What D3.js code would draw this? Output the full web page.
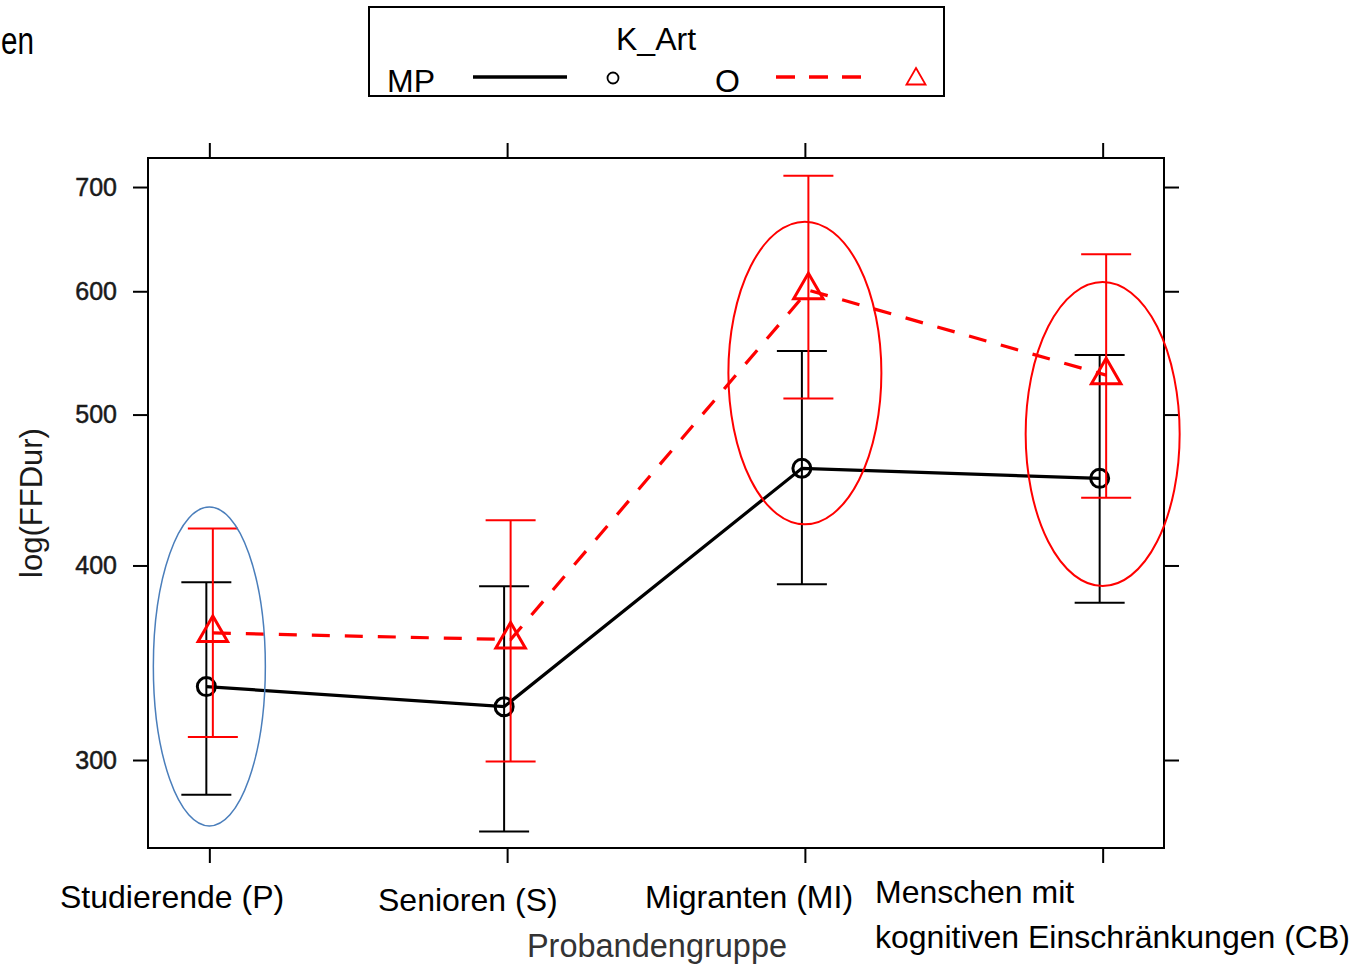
<!DOCTYPE html>
<html>
<head>
<meta charset="utf-8">
<script src="https://d3js.org/d3.v7.min.js"></script>
<style>
  html, body { margin: 0; padding: 0; background: #fff; }
  svg { display: block; }
  text { font-family: "Liberation Sans", Arial, sans-serif; }
</style>
</head>
<body>
<svg id="chart" width="1367" height="967"></svg>
<script>
// Participant groups (x axis) and the two stimulus types (K_Art)
const categories = ["P", "S", "MI", "CB"];
const categoryLabels = [
  ["Studierende (P)"],
  ["Senioren (S)"],
  ["Migranten (MI)"],
  ["Menschen mit", "kognitiven Einschränkungen (CB)"]
];
const seriesNames = ["MP", "O"];

// FFDur estimates with confidence limits, MP
const mpMean  = [334.4, 324.6, 461.8, 455.0];
const mpLower = [285.0, 269.9, 389.0, 378.6];
const mpUpper = [390.2, 387.9, 549.3, 546.0];

// FFDur estimates with confidence limits, O
const oMean  = [362.0, 358.5, 601.0, 530.0];
const oLower = [310.4, 299.3, 512.1, 442.2];
const oUpper = [422.4, 427.6, 711.8, 633.7];

const yTicks = [300, 400, 500, 600, 700];

// Highlighted groups: category, centre value, colour
const highlightCats   = ["P", "MI", "CB"];
const highlightCenter = [344.5, 531.7, 485.8];
const highlightColor  = ["#4a7ebb", "#ff0000", "#ff0000"];

// ---- layout ----
const svg = d3.select("#chart");
const box = { left: 148, right: 1164, top: 158, bottom: 848 };
const ellipseR = [[56, 159.5], [76.5, 151.3], [77, 152]];
const labelPos = [[60, 908], [378, 911], [645, 908], [875, 903]];

const x = d3.scalePoint().domain(categories).range([box.left, box.right]).padding(0.206);
const y = d3.scaleLog().domain([263.4, 730.7]).range([box.bottom, box.top]);

const series = [
  { name: "MP", mean: mpMean, lo: mpLower, hi: mpUpper, color: "#000000", dx: -3, dash: null, shape: "circle" },
  { name: "O",  mean: oMean,  lo: oLower,  hi: oUpper,  color: "#ff0000", dx: 3.5, dash: "18,15", shape: "triangle" }
];

// axes: ticks on all four sides, labels on the left only
const tickLen = 15;
svg.append("g")
  .attr("transform", `translate(${box.left},0)`)
  .call(d3.axisLeft(y).tickValues(yTicks).tickFormat(d3.format("d")).tickSize(tickLen).tickPadding(16))
  .call(g => g.select(".domain").remove())
  .call(g => g.selectAll("line").attr("stroke", "#000").attr("stroke-width", 2))
  .call(g => g.selectAll("text").attr("font-size", 25).attr("fill", "#1a1a1a")
    .attr("stroke", "#1a1a1a").attr("stroke-width", 0.5)
    .attr("font-family", "Liberation Sans, Arial, sans-serif"));

svg.append("g")
  .attr("transform", `translate(${box.right},0)`)
  .call(d3.axisRight(y).tickValues(yTicks).tickFormat("").tickSize(tickLen))
  .call(g => g.select(".domain").remove())
  .call(g => g.selectAll("line").attr("stroke", "#000").attr("stroke-width", 2));

svg.append("g")
  .attr("transform", `translate(0,${box.top})`)
  .call(d3.axisTop(x).tickFormat("").tickSize(tickLen))
  .call(g => g.select(".domain").remove())
  .call(g => g.selectAll("line").attr("stroke", "#000").attr("stroke-width", 2));

svg.append("g")
  .attr("transform", `translate(0,${box.bottom})`)
  .call(d3.axisBottom(x).tickFormat("").tickSize(tickLen))
  .call(g => g.select(".domain").remove())
  .call(g => g.selectAll("line").attr("stroke", "#000").attr("stroke-width", 2));

// panel frame
svg.append("rect")
  .attr("x", box.left).attr("y", box.top)
  .attr("width", box.right - box.left).attr("height", box.bottom - box.top)
  .attr("fill", "none").attr("stroke", "#000").attr("stroke-width", 2);

// error bars, lines and markers per series
const capHalf = 25;
series.forEach(s => {
  const g = svg.append("g");
  const xs = categories.map(c => x(c) + s.dx);

  const bars = g.selectAll("g.bar").data(categories).join("g").attr("class", "bar")
    .attr("stroke", s.color).attr("stroke-width", 2);
  bars.append("line")
    .attr("x1", (d, i) => xs[i]).attr("x2", (d, i) => xs[i])
    .attr("y1", (d, i) => y(s.lo[i])).attr("y2", (d, i) => y(s.hi[i]));
  bars.append("line")
    .attr("x1", (d, i) => xs[i] - capHalf).attr("x2", (d, i) => xs[i] + capHalf)
    .attr("y1", (d, i) => y(s.hi[i])).attr("y2", (d, i) => y(s.hi[i]));
  bars.append("line")
    .attr("x1", (d, i) => xs[i] - capHalf).attr("x2", (d, i) => xs[i] + capHalf)
    .attr("y1", (d, i) => y(s.lo[i])).attr("y2", (d, i) => y(s.lo[i]));

  const line = d3.line().x((d, i) => xs[i]).y(d => y(d));
  g.append("path").datum(s.mean)
    .attr("d", line)
    .attr("fill", "none").attr("stroke", s.color).attr("stroke-width", 3.2)
    .attr("stroke-dasharray", s.dash);

  if (s.shape === "circle") {
    g.selectAll("circle.pt").data(s.mean).join("circle").attr("class", "pt")
      .attr("cx", (d, i) => xs[i]).attr("cy", d => y(d)).attr("r", 9)
      .attr("fill", "none").attr("stroke", s.color).attr("stroke-width", 3);
  } else {
    const r = 17;
    g.selectAll("path.pt").data(s.mean).join("path").attr("class", "pt")
      .attr("d", (d, i) => {
        const cx = xs[i], cy = y(d);
        return `M${cx},${cy - r}L${cx + r * 0.866},${cy + r / 2}L${cx - r * 0.866},${cy + r / 2}Z`;
      })
      .attr("fill", "none").attr("stroke", s.color).attr("stroke-width", 3);
  }
});

// highlight ellipses
svg.append("g").selectAll("ellipse").data(highlightCats).join("ellipse")
  .attr("cx", d => x(d))
  .attr("cy", (d, i) => y(highlightCenter[i]))
  .attr("rx", (d, i) => ellipseR[i][0])
  .attr("ry", (d, i) => ellipseR[i][1])
  .attr("fill", "none")
  .attr("stroke", (d, i) => highlightColor[i])
  .attr("stroke-width", (d, i) => i === 0 ? 1.5 : 2);

// y axis title
svg.append("text")
  .attr("transform", "translate(42,503) rotate(-90)")
  .attr("text-anchor", "middle")
  .attr("font-size", 31).attr("fill", "#1a1a1a")
  .text("log(FFDur)");

// x axis title
svg.append("text")
  .attr("x", 657).attr("y", 957)
  .attr("text-anchor", "middle")
  .attr("font-size", 32.5).attr("fill", "#333")
  .text("Probandengruppe");

// group labels
categoryLabels.forEach((lines, i) => {
  const t = svg.append("text")
    .attr("x", labelPos[i][0]).attr("y", labelPos[i][1])
    .attr("font-size", 32).attr("fill", "#000");
  lines.forEach((ln, j) => {
    t.append("tspan").attr("x", labelPos[i][0]).attr("dy", j === 0 ? 0 : 45).text(ln);
  });
});

// legend
const lg = svg.append("g");
lg.append("rect").attr("x", 369).attr("y", 7).attr("width", 575).attr("height", 89)
  .attr("fill", "#fff").attr("stroke", "#000").attr("stroke-width", 2);
lg.append("text").attr("x", 656).attr("y", 50).attr("text-anchor", "middle")
  .attr("font-size", 32).attr("fill", "#000").text("K_Art");
lg.append("text").attr("x", 387).attr("y", 92).attr("font-size", 32).attr("fill", "#000").text(seriesNames[0]);
lg.append("line").attr("x1", 473).attr("x2", 567).attr("y1", 77).attr("y2", 77)
  .attr("stroke", "#000").attr("stroke-width", 3.5);
lg.append("circle").attr("cx", 613).attr("cy", 78).attr("r", 5.5)
  .attr("fill", "none").attr("stroke", "#000").attr("stroke-width", 1.8);
lg.append("text").attr("x", 715).attr("y", 92).attr("font-size", 32).attr("fill", "#000").text(seriesNames[1]);
lg.append("line").attr("x1", 776).attr("x2", 862).attr("y1", 77).attr("y2", 77)
  .attr("stroke", "#ff0000").attr("stroke-width", 3.5).attr("stroke-dasharray", "19,14");
(() => {
  const cx = 916, cy = 79, r = 11;
  lg.append("path")
    .attr("d", `M${cx},${cy - r}L${cx + r * 0.866},${cy + r / 2}L${cx - r * 0.866},${cy + r / 2}Z`)
    .attr("fill", "none").attr("stroke", "#ff0000").attr("stroke-width", 1.8);
})();

// heading fragment at the top-left edge
svg.append("text").attr("x", 1).attr("y", 54)
  .attr("font-size", 38).attr("fill", "#000")
  .attr("textLength", 33).attr("lengthAdjust", "spacingAndGlyphs")
  .text("en");
</script>
</body>
</html>
